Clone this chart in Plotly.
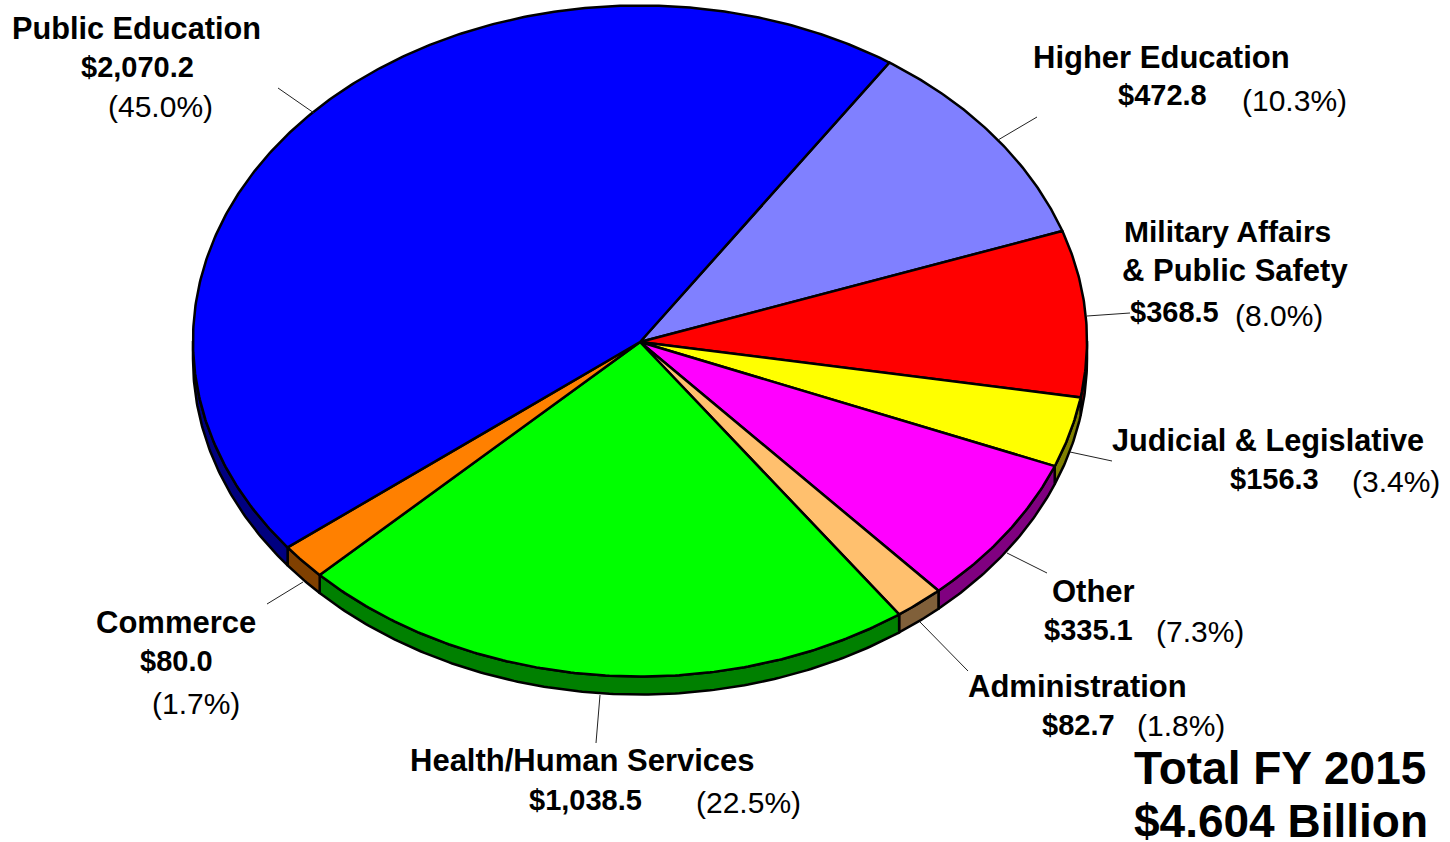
import numpy as np
import plotly.graph_objects as go

# Data, clockwise from the first slice
categories = ["Higher Education", "Military Affairs & Public Safety", "Judicial & Legislative",
              "Other", "Administration", "Health/Human Services", "Commerce", "Public Education"]
values = [472.8, 368.5, 156.3, 335.1, 82.7, 1038.5, 80.0, 2070.2]
top_colors = ["#8080ff", "#ff0000", "#ffff00", "#ff00ff", "#ffc06e", "#00ff00", "#ff8000", "#0000ff"]
wall_colors = ["#404080", "#800000", "#808000", "#800080", "#80603a", "#008000", "#804000", "#000080"]

# Label texts: text, centre x, centre y, bold, size
NAME, AMOUNT, PCT = 31, 29, 30
labels = [
    ("Public Education", 136, 28, True, 30.7), ("$2,070.2", 137, 67, True, AMOUNT), ("(45.0%)", 160, 106, False, PCT),
    ("Higher Education", 1161, 57, True, NAME), ("$472.8", 1162, 95, True, AMOUNT), ("(10.3%)", 1294, 100, False, PCT),
    ("Military Affairs", 1227, 231, True, 30), ("& Public Safety", 1235, 270, True, NAME),
    ("$368.5", 1174, 312, True, AMOUNT), ("(8.0%)", 1279, 315, False, PCT),
    ("Judicial & Legislative", 1268, 440, True, 30.7), ("$156.3", 1274, 479, True, AMOUNT), ("(3.4%)", 1396, 481, False, PCT),
    ("Other", 1093, 591, True, NAME), ("$335.1", 1088, 630, True, AMOUNT), ("(7.3%)", 1200, 631, False, PCT),
    ("Administration", 1077, 686, True, NAME), ("$82.7", 1078, 725, True, AMOUNT), ("(1.8%)", 1181, 725, False, PCT),
    ("Health/Human Services", 582, 760, True, NAME), ("$1,038.5", 585, 800, True, AMOUNT), ("(22.5%)", 748, 802, False, PCT),
    ("Commerce", 176, 622, True, NAME), ("$80.0", 176, 661, True, AMOUNT), ("(1.7%)", 196, 703, False, PCT),
]
totals = [("Total FY 2015", 1280, 768), ("$4.604 Billion", 1281, 821)]
leaders = [((278, 88), (314, 113)), ((1037, 117), (998, 140)), ((1130, 313), (1087, 316)),
           ((1112, 461), (1070, 452)), ((1047, 573), (1007, 553)), ((968, 671), (920, 622)),
           ((267, 604), (303, 582)), ((596, 743), (600, 695))]

# Pie geometry
CX, CY, APEX_Y, RX, RY, DEPTH = 640, 341, 342, 447, 335.5, 18
START_DEG = 33.9


def arc(a0, a1, dy=0.0, n=None):
    n = n or max(2, int(abs(a1 - a0) * 2) + 2)
    t = np.radians(np.linspace(a0, a1, n))
    return CX + RX * np.sin(t), CY + dy - RY * np.cos(t)


fig = go.Figure()
shares = np.array(values) / sum(values) * 360
edges = START_DEG + np.concatenate([[0], np.cumsum(shares)])

# Side walls: only the front half (90..270 degrees clockwise from top) is visible
for i, cat in enumerate(categories):
    a0, a1 = max(edges[i], 90), min(edges[i + 1], 270)
    if a1 <= a0:
        continue
    xt, yt = arc(a0, a1)
    xb, yb = arc(a1, a0, DEPTH)
    fig.add_trace(go.Scatter(x=np.r_[xt, xb, xt[0]], y=np.r_[yt, yb, yt[0]], mode="lines",
                             fill="toself", fillcolor=wall_colors[i],
                             line=dict(color="black", width=2.5), hoverinfo="skip", showlegend=False))

# Top faces
for i, cat in enumerate(categories):
    xa, ya = arc(edges[i], edges[i + 1])
    fig.add_trace(go.Scatter(x=np.r_[CX, xa, CX], y=np.r_[APEX_Y, ya, APEX_Y], mode="lines",
                             fill="toself", fillcolor=top_colors[i], name=cat,
                             text=f"{cat}: ${values[i]:,.1f}", hoverinfo="text",
                             line=dict(color="black", width=2.5), showlegend=False))

# Leader lines
for p, q in leaders:
    fig.add_trace(go.Scatter(x=[p[0], q[0]], y=[p[1], q[1]], mode="lines",
                             line=dict(color="#222222", width=1), hoverinfo="skip", showlegend=False))

for text, x, y, bold, size in labels:
    fig.add_annotation(x=x, y=y, text=f"<b>{text}</b>" if bold else text, showarrow=False,
                       xanchor="center", yanchor="middle",
                       font=dict(family="Liberation Sans", size=size, color="black"))
for text, x, y in totals:
    fig.add_annotation(x=x, y=y, text=f"<b>{text}</b>", showarrow=False, xanchor="center", yanchor="middle",
                       font=dict(family="Liberation Sans", size=46, color="black"))

fig.update_layout(width=1450, height=842, margin=dict(l=0, r=0, t=0, b=0),
                  paper_bgcolor="white", plot_bgcolor="white",
                  xaxis=dict(range=[0, 1450], visible=False, fixedrange=True),
                  yaxis=dict(range=[842, 0], visible=False, fixedrange=True))
fig.write_html("out.html", config={"displayModeBar": False}, post_script="document.body.style.margin='0';")
